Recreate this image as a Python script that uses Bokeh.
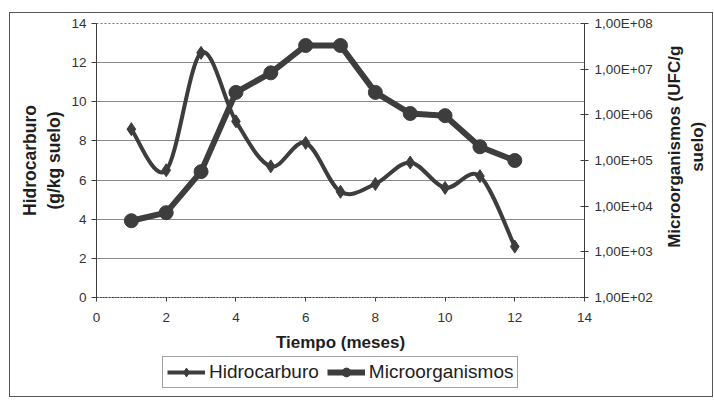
import math
from bokeh.plotting import figure
from bokeh.layouts import column, row
from bokeh.models import (Range1d, LogScale, LogAxis, FixedTicker, CustomJSTickFormatter,
                          Legend, LegendItem, Label)
from bokeh.embed import file_html
from bokeh.resources import INLINE

meses = [1, 2, 3, 4, 5, 6, 7, 8, 9, 10, 11, 12]
hidrocarburo = [8.6, 6.5, 12.5, 9.0, 6.7, 7.9, 5.4, 5.8, 6.9, 5.6, 6.2, 2.6]
microorganismos = [4.8e3, 7.2e3, 5.7e4, 3.1e6, 8.3e6, 3.3e7, 3.3e7, 3.1e6, 1.07e6, 9.6e5, 2.0e5, 1.0e5]
x_ticks = [0, 2, 4, 6, 8, 10, 12, 14]
y_ticks = [0, 2, 4, 6, 8, 10, 12, 14]
micro_ticks = [1e2, 1e3, 1e4, 1e5, 1e6, 1e7, 1e8]

FONT = "Liberation Sans"
LINE = "#3d3d3d"
TEXT = "#1e1e1e"

# ---------------- main chart ----------------
p = figure(width=655, height=342, output_backend="svg", toolbar_location=None,
           x_range=Range1d(0, 14), y_range=Range1d(0, 14),
           extra_y_ranges={"micro": Range1d(1e2, 1e8)},
           extra_y_scales={"micro": LogScale()},
           min_border_left=86, min_border_right=81, min_border_top=10,
           min_border_bottom=58)
p.background_fill_color = "white"
p.border_fill_color = "white"
p.outline_line_color = "#777777"
p.outline_line_dash = "2 2"

# smoothed curve (Catmull-Rom -> Bezier) through the Hidrocarburo points
n = len(meses)
x0s, y0s, x1s, y1s, cx0s, cy0s, cx1s, cy1s = [], [], [], [], [], [], [], []
for i in range(n - 1):
    a = max(i - 1, 0)
    d = min(i + 2, n - 1)
    xa, ya = meses[a], hidrocarburo[a]
    xb, yb = meses[i], hidrocarburo[i]
    xc, yc = meses[i + 1], hidrocarburo[i + 1]
    xd, yd = meses[d], hidrocarburo[d]
    x0s.append(xb); y0s.append(yb); x1s.append(xc); y1s.append(yc)
    cx0s.append(xb + (xc - xa) / 6.0); cy0s.append(yb + (yc - ya) / 6.0)
    cx1s.append(xc - (xd - xb) / 6.0); cy1s.append(yc - (yd - yb) / 6.0)

p.bezier(x0=x0s, y0=y0s, x1=x1s, y1=y1s, cx0=cx0s, cy0=cy0s, cx1=cx1s, cy1=cy1s,
         line_color=LINE, line_width=4)
p.scatter(meses, hidrocarburo, marker="diamond", size=13, fill_color=LINE, line_color=LINE)

p.line(meses, microorganismos, y_range_name="micro", line_color=LINE, line_width=6,
       line_join="round")
p.scatter(meses, microorganismos, y_range_name="micro", marker="circle", size=14,
          fill_color=LINE, line_color=LINE)

p.xaxis.ticker = FixedTicker(ticks=x_ticks)
p.xaxis.axis_label = "Tiempo (meses)"
p.yaxis.ticker = FixedTicker(ticks=y_ticks)
p.yaxis.axis_label = "Hidrocarburo\n(g/kg suelo)"

p.xaxis.axis_line_dash = "2 1"
p.xaxis.major_tick_in = 0
p.xaxis.major_tick_out = 4
p.xaxis.major_label_standoff = 11
p.xaxis.axis_label_standoff = 8

p.yaxis.major_tick_in = 0
p.yaxis.major_tick_out = 5
p.yaxis.major_label_standoff = 5
p.yaxis.axis_label_standoff = 4

ax_r = LogAxis(y_range_name="micro", ticker=FixedTicker(ticks=micro_ticks),
               formatter=CustomJSTickFormatter(code="""
                   const e = Math.round(Math.log10(tick));
                   return "1,00E+" + (e < 10 ? "0" + e : "" + e);
               """))
ax_r.major_tick_in = 4
ax_r.major_tick_out = 4
ax_r.minor_tick_in = 0
ax_r.minor_tick_out = 0
ax_r.major_label_standoff = 6
p.add_layout(ax_r, "right")

for ax in [p.xaxis[0], p.yaxis[0], ax_r]:
    ax.minor_tick_line_color = None
    ax.axis_line_color = LINE
    ax.major_tick_line_color = LINE
    ax.major_label_text_font = FONT
    ax.major_label_text_font_size = "13.5px"
    ax.major_label_text_color = "#333333"
    ax.axis_label_text_font = FONT
    ax.axis_label_text_font_size = "17px"
    ax.axis_label_text_font_style = "bold"
    ax.axis_label_text_color = TEXT
p.yaxis.axis_label_text_font_size = "17.5px"

p.xgrid.visible = False
p.ygrid.ticker = FixedTicker(ticks=[2, 4, 6, 8, 10, 12])
p.ygrid.grid_line_color = "#8a8a8a"
p.ygrid.grid_line_width = 1

# ---------------- right axis title (reads bottom to top) ----------------
pr = figure(width=47, height=342, output_backend="svg", toolbar_location=None,
            x_range=Range1d(0, 1), y_range=Range1d(0, 1),
            x_axis_location=None, y_axis_location=None, min_border=0)
pr.outline_line_color = None
pr.grid.visible = False
pr.add_layout(Label(x=0.43, y=0.55, text="Microorganismos (UFC/g\nsuelo)",
                    angle=math.pi / 2, text_align="center", text_baseline="middle",
                    text_font=FONT, text_font_size="17px", text_font_style="bold",
                    text_color=TEXT))

# ---------------- legend strip ----------------
pl = figure(width=702, height=41, output_backend="svg", toolbar_location=None,
            x_range=Range1d(100, 101), y_range=Range1d(100, 101),
            x_axis_location=None, y_axis_location=None, min_border=0)
pl.outline_line_color = None
pl.grid.visible = False
l1 = pl.line(meses, hidrocarburo, line_color=LINE, line_width=4)
s1 = pl.scatter(meses, hidrocarburo, marker="diamond", size=13, fill_color=LINE, line_color=LINE)
l2 = pl.line(meses, microorganismos, line_color=LINE, line_width=6)
s2 = pl.scatter(meses, microorganismos, marker="circle", size=14, fill_color=LINE, line_color=LINE)

legend = Legend(items=[LegendItem(label="Hidrocarburo", renderers=[l1, s1]),
                       LegendItem(label="Microorganismos", renderers=[l2, s2])],
                orientation="horizontal", location=(152, 8))
legend.label_text_font = FONT
legend.label_text_font_size = "19px"
legend.label_text_color = TEXT
legend.border_line_color = "#444444"
legend.border_line_width = 1
legend.background_fill_color = "white"
legend.padding = 4
legend.spacing = 8
legend.margin = 0
legend.glyph_width = 38
legend.glyph_height = 22
legend.label_height = 22
legend.label_standoff = 4
pl.add_layout(legend, "center")

layout = column(row(p, pr), pl)
layout.styles = {"margin-left": "9px", "margin-top": "12px", "border": "1px solid #555555"}

open("out.html", "w").write(file_html(layout, INLINE))
